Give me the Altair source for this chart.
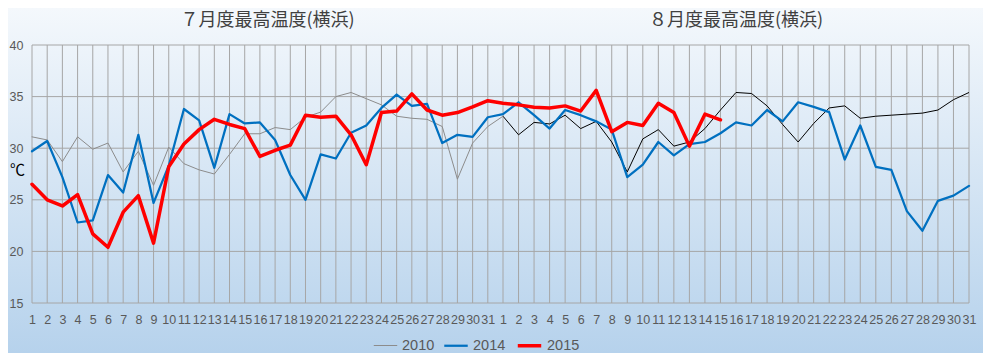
import altair as alt
import pandas as pd

# ---- data ----
titles = ["７月度最高温度(横浜)", "８月度最高温度(横浜)"]
title_pos = [16.5, 47]
years = ["2010", "2014", "2015"]
y_ticks = [15, 20, 25, 30, 35, 40]
x_ticks = list(range(1, 63))  # July 1..31 -> 1..31, August 1..31 -> 32..62

t2010_jul = [31.1, 30.8, 28.7, 31.1, 29.9, 30.5, 27.7, 29.7, 26.4, 30.1, 28.5, 27.9, 27.5, 29.4, 31.4, 31.4,
             32.0, 31.8, 33.0, 33.5, 35.0, 35.4, 34.8, 34.2, 33.1, 32.9, 32.8, 32.1, 27.0, 30.5, 32.1]
t2010_aug = [33.1, 31.3, 32.5, 32.35, 33.2, 31.9, 32.6, 30.6, 27.7, 30.9, 31.8, 30.2, 30.6, 31.9, 33.7, 35.4,
             35.3, 34.1, 32.3, 30.6, 32.4, 33.9, 34.1, 32.9, 33.1, 33.2, 33.3, 33.4, 33.7, 34.7, 35.4]
t2014_jul = [29.7, 30.7, 27.2, 22.8, 23.0, 27.4, 25.7, 31.3, 24.7, 28.3, 33.8, 32.7, 28.1, 33.3, 32.4, 32.5,
             30.8, 27.4, 25.0, 29.4, 29.0, 31.5, 32.2, 33.9, 35.2, 34.1, 34.3, 30.5, 31.3, 31.1, 33.0]
t2014_aug = [33.3, 34.45, 33.2, 31.9, 33.7, 33.2, 32.6, 31.8, 27.2, 28.4, 30.6, 29.3, 30.4, 30.6, 31.45, 32.5,
             32.2, 33.7, 32.6, 34.45, 34.0, 33.5, 28.9, 32.2, 28.2, 27.9, 23.9, 22.0, 24.9, 25.4, 26.35]
t2015_jul = [26.5, 25.0, 24.4, 25.5, 21.7, 20.4, 23.8, 25.4, 20.8, 28.2, 30.4, 31.8, 32.8, 32.3, 31.9, 29.2,
             29.8, 30.3, 33.2, 33.0, 33.1, 31.3, 28.4, 33.45, 33.6, 35.26, 33.7, 33.2, 33.45, 34.0, 34.6]
t2015_aug = [34.35, 34.2, 33.97, 33.9, 34.1, 33.6, 35.6, 31.6, 32.5, 32.2, 34.35, 33.45, 30.2, 33.3, 32.75]

rows = []
for i, v in enumerate(t2010_jul + t2010_aug[:1]):
    rows.append({"pos": i + 1, "temp": v, "year": "2010"})
for i, v in enumerate(t2014_jul + t2014_aug):
    rows.append({"pos": i + 1, "temp": v, "year": "2014"})
for i, v in enumerate(t2015_jul + t2015_aug):
    rows.append({"pos": i + 1, "temp": v, "year": "2015"})
main_df = pd.DataFrame(rows)
aug2010_df = pd.DataFrame({"pos": [31 + d for d in range(1, 32)], "temp": t2010_aug})
title_df = pd.DataFrame({"pos": title_pos, "title": titles})
vgrid_df = pd.DataFrame({"pos": x_ticks})
hgrid_df = pd.DataFrame({"temp": y_ticks})

W, H = 937, 258
GRID = "#A6A6A6"
LABEL = "#595959"

x_enc = alt.X(
    "pos:Q",
    scale=alt.Scale(type="linear", domain=[1, 32, 62], range=[0, 471, W], nice=False, zero=False),
    axis=alt.Axis(values=x_ticks,
                  labelExpr="datum.value > 31 ? datum.value - 31 : datum.value",
                  grid=False, ticks=False, domain=False, title=None, zindex=1,
                  labelOverlap=False, labelFlush=False, labelFont="Liberation Sans", labelFontSize=12.5,
                  labelColor=LABEL, labelPadding=10),
)
y_enc = alt.Y(
    "temp:Q",
    scale=alt.Scale(domain=[15, 40], nice=False, zero=False),
    axis=alt.Axis(values=y_ticks, grid=False, ticks=False, domain=False, zindex=1,
                  labelFont="Liberation Sans", labelFontSize=12.5, labelColor=LABEL, labelPadding=9,
                  title="℃", titleAngle=0, titleX=-15, titleY=124, titleAlign="center",
                  titleBaseline="middle", titleFont="Noto Sans CJK JP", titleFontSize=15,
                  titleFontWeight="normal", titleColor="#000000"),
)

gradient = alt.Gradient(
    gradient="linear",
    stops=[alt.GradientStop(color="#F4F8FC", offset=0), alt.GradientStop(color="#B6D2EC", offset=1)],
    x1=0, x2=0, y1=0, y2=1,
)
bg = alt.Chart(alt.Data(values=[{"a": 1}])).mark_rect(fill=gradient).encode(
    x=alt.value(-24), x2=alt.value(951), y=alt.value(-37), y2=alt.value(308)
)

vgrid = alt.Chart(vgrid_df).mark_rule(color=GRID, strokeWidth=1).encode(
    x=x_enc, y=alt.value(0), y2=alt.value(H)
)
hgrid = alt.Chart(hgrid_df).mark_rule(color=GRID, strokeWidth=1).encode(
    y=y_enc, x=alt.value(0), x2=alt.value(W)
)

leg = alt.Legend(title=None, orient="none", legendX=341, legendY=287, direction="horizontal",
                 symbolType="stroke", symbolSize=550, labelFontSize=14.5, labelColor=LABEL,
                 labelFont="Liberation Sans", columnPadding=4, labelOffset=4)

black = alt.Chart(aug2010_df).mark_line(color="#000000", strokeWidth=1, strokeJoin="round").encode(
    x=x_enc, y=y_enc
)

lines = alt.Chart(main_df).mark_line(strokeJoin="round", strokeCap="round").encode(
    x=x_enc,
    y=y_enc,
    color=alt.Color("year:O", scale=alt.Scale(domain=years, range=["#8C8C8C", "#0070C0", "#FF0000"]), legend=leg),
    strokeWidth=alt.StrokeWidth("year:O", scale=alt.Scale(domain=years, range=[1, 3.5, 4.5]), legend=leg),
)

ttl = alt.Chart(title_df).mark_text(font="Noto Sans CJK JP", fontSize=18, color="#404040",
                                    baseline="middle").encode(
    x=x_enc, y=alt.value(-24), text="title:N"
)

chart = alt.layer(bg, vgrid, hgrid, black, lines, ttl).properties(
    width=W, height=H,
    autosize=alt.AutoSizeParams(type="none"),
    padding={"left": 24, "top": 37, "right": 14, "bottom": 50},
).configure_view(stroke=None).configure(background="#EEF4FA")

chart.save("out.html", embed_options={"renderer": "svg", "actions": False})
